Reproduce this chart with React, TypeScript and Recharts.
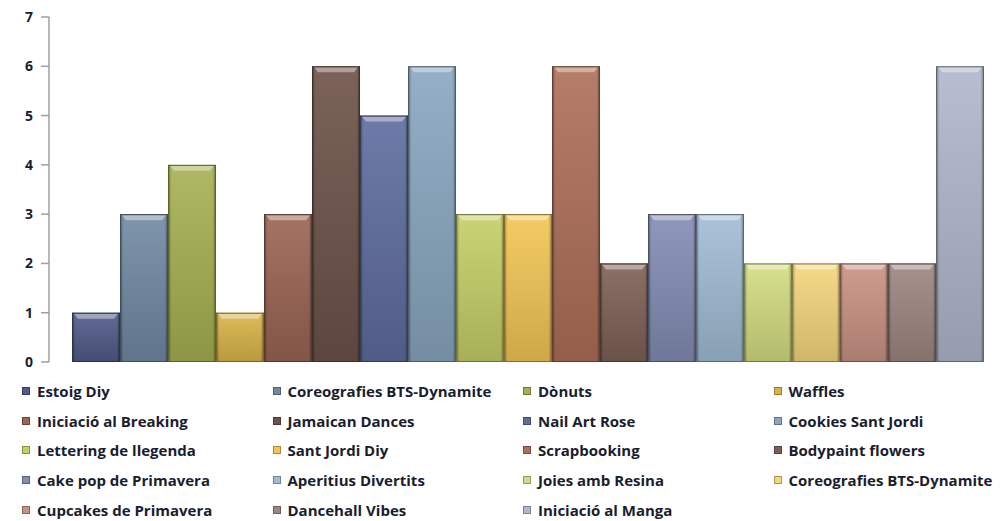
import React from "react";
import { BarChart, Bar, XAxis, YAxis, Legend } from "recharts";

const seriesNames = [
  "Estoig Diy",
  "Coreografies BTS-Dynamite",
  "Dònuts",
  "Waffles",
  "Iniciació al Breaking",
  "Jamaican Dances",
  "Nail Art Rose",
  "Cookies Sant Jordi",
  "Lettering de llegenda",
  "Sant Jordi Diy",
  "Scrapbooking",
  "Bodypaint flowers",
  "Cake pop de Primavera",
  "Aperitius Divertits",
  "Joies amb Resina",
  "Coreografies BTS-Dynamite",
  "Cupcakes de Primavera",
  "Dancehall Vibes",
  "Iniciació al Manga",
];

const seriesValues = [1, 3, 4, 1, 3, 6, 5, 6, 3, 3, 6, 2, 3, 3, 2, 2, 2, 2, 6];

const seriesColors = [
  "#4f5b88",
  "#7189a3",
  "#a6b050",
  "#d8b448",
  "#9a6452",
  "#6c5248",
  "#5e6c9e",
  "#88a6c0",
  "#c4cf66",
  "#f2c655",
  "#ae6e58",
  "#7e6056",
  "#828cb4",
  "#a0bcd4",
  "#d2dc80",
  "#f4d67c",
  "#c89282",
  "#9c8680",
  "#b0b6cc",
];

const yTicks = [0, 1, 2, 3, 4, 5, 6, 7];

const FONT = "'Open Sans', 'Noto Sans', sans-serif";

const row: Record<string, number | string> = { cat: "" };
seriesValues.forEach((v, i) => {
  row["s" + i] = v;
});
const data = [row];

// mix a hex colour toward white (amt > 0) or black (amt < 0)
function shade(hex: string, amt: number) {
  const n = parseInt(hex.slice(1), 16);
  const ch = [(n >> 16) & 255, (n >> 8) & 255, n & 255].map((c) =>
    Math.round(amt >= 0 ? c + (255 - c) * amt : c * (1 + amt))
  );
  return "rgb(" + ch.join(",") + ")";
}

function BevelBar(props: any) {
  const { x, y, width: w, height: h, color, gid } = props;
  if (!h || h <= 0) return null;
  const vId = "bv" + gid;
  const eId = "be" + gid;
  return (
    <g>
      <defs>
        <linearGradient id={vId} x1="0" y1="0" x2="0" y2="1">
          <stop offset="0%" stopColor={shade(color, 0.1)} />
          <stop offset="100%" stopColor={shade(color, -0.15)} />
        </linearGradient>
        <linearGradient id={eId} x1="0" y1="0" x2="1" y2="0">
          <stop offset="0%" stopColor="#000" stopOpacity={0.4} />
          <stop offset="7%" stopColor="#000" stopOpacity={0} />
          <stop offset="93%" stopColor="#000" stopOpacity={0} />
          <stop offset="100%" stopColor="#000" stopOpacity={0.4} />
        </linearGradient>
      </defs>
      <rect x={x} y={y} width={w} height={h} fill={`url(#${vId})`} />
      <rect x={x} y={y} width={w} height={h} fill={`url(#${eId})`} />
      <polygon
        points={`${x + 2},${y + 1} ${x + w - 2},${y + 1} ${x + w - 6},${y + 6} ${x + 6},${y + 6}`}
        fill="#fff"
        fillOpacity={0.4}
      />
      <rect
        x={x + 0.5}
        y={y + 0.5}
        width={w - 1}
        height={h - 1}
        fill="none"
        stroke={shade(color, -0.45)}
        strokeWidth={1}
      />
    </g>
  );
}

function LegendGrid() {
  return (
    <div
      style={{
        height: 159,
        width: 1001,
        boxSizing: "border-box",
        paddingTop: 14,
        paddingLeft: 22,
        display: "grid",
        gridTemplateColumns: "250.5px 250.5px 250.5px 250.5px",
        gridAutoRows: "29.75px",
        fontFamily: FONT,
        fontWeight: 700,
        fontSize: 15,
        color: "#1a1d2e",
      }}
    >
      {seriesNames.map((name, i) => (
        <div
          key={i}
          style={{ display: "flex", alignItems: "center", whiteSpace: "nowrap" }}
        >
          <span
            style={{
              display: "inline-block",
              width: 8,
              height: 8,
              marginRight: 7,
              background: seriesColors[i],
              border: "1px solid " + shade(seriesColors[i], -0.3),
              boxSizing: "border-box",
            }}
          />
          <span>{name}</span>
        </div>
      ))}
    </div>
  );
}

export default function App() {
  return (
    <div
      style={{
        position: "absolute",
        left: 0,
        top: 0,
        width: 1001,
        height: 521,
        background: "#fff",
      }}
    >
      <BarChart
        width={1001}
        height={521}
        data={data}
        margin={{ top: 17, right: 1, left: 0, bottom: 0 }}
        barCategoryGap={15}
        barGap={0}
      >
        <XAxis
          dataKey="cat"
          height={0}
          tick={false}
          tickLine={false}
          axisLine={{ stroke: "#a0a0a0", strokeWidth: 1.5 }}
          padding={{ left: 8, right: 0 }}
        />
        <YAxis
          width={49}
          domain={[0, 7]}
          ticks={yTicks}
          interval={0}
          tickSize={8}
          tickMargin={8}
          axisLine={{ stroke: "#a0a0a0", strokeWidth: 1.5 }}
          tickLine={{ stroke: "#a0a0a0", strokeWidth: 1.5 }}
          tick={{ fontSize: 14, fontWeight: 700, fill: "#1a1d2e", fontFamily: FONT }}
        />
        <Legend
          verticalAlign="bottom"
          align="left"
          wrapperStyle={{ left: 0, bottom: 0, width: 1001 }}
          content={() => <LegendGrid />}
        />
        {seriesNames.map((name, i) => (
          <Bar
            key={i}
            dataKey={"s" + i}
            name={name}
            fill={seriesColors[i]}
            isAnimationActive={false}
            shape={(p: any) => <BevelBar {...p} color={seriesColors[i]} gid={i} />}
          />
        ))}
      </BarChart>
    </div>
  );
}
